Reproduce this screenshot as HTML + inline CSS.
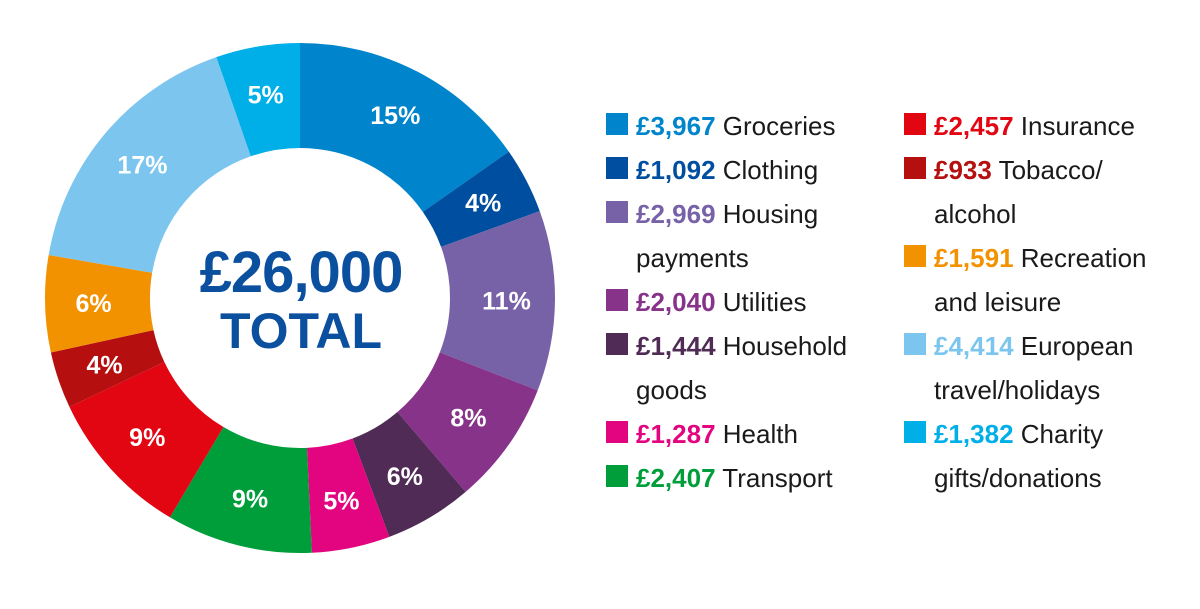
<!DOCTYPE html>
<html><head><meta charset="utf-8">
<style>
html,body{margin:0;padding:0;background:#fff;}
body{width:1200px;height:604px;overflow:hidden;font-family:"Liberation Sans",sans-serif;}
</style></head>
<body>
<svg id="chart" width="1200" height="604" viewBox="0 0 1200 604" xmlns="http://www.w3.org/2000/svg">
<g id="slices"></g>
<g id="pcts"></g>
<text x="301" y="292" text-anchor="middle" font-family="Liberation Sans, sans-serif" font-weight="bold" font-size="58" fill="#0b4f9f" letter-spacing="-1">£26,000</text>
<text x="301" y="348" text-anchor="middle" font-family="Liberation Sans, sans-serif" font-weight="bold" font-size="50" fill="#0b4f9f">TOTAL</text>
<g id="legend"></g>
</svg>
<script>
const categories = ["Groceries","Clothing","Housing payments","Utilities","Household goods","Health","Transport","Insurance","Tobacco/ alcohol","Recreation and leisure","European travel/holidays","Charity gifts/donations"];
const values = [3967,1092,2969,2040,1444,1287,2407,2457,933,1591,4414,1382];
const amountLabels = ["£3,967","£1,092","£2,969","£2,040","£1,444","£1,287","£2,407","£2,457","£933","£1,591","£4,414","£1,382"];
const legendLine1 = ["Groceries","Clothing","Housing","Utilities","Household","Health","Transport","Insurance","Tobacco/","Recreation","European","Charity"];
const legendLine2 = ["","","payments","","goods","","","","alcohol","and leisure","travel/holidays","gifts/donations"];
const colors = ["#0085cc","#004e9f","#7762a8","#87338a","#4f2b55","#e3057f","#009e3a","#e20613","#b50f0f","#f39200","#7bc5ee","#00aee8"];

const NS="http://www.w3.org/2000/svg";
const cx=300, cy=298, R=255, r=150;
const total = values.reduce((a,b)=>a+b,0);
function angleOf(v){ return v/total*Math.PI*2; }
function pt(a,rad){ return [cx+rad*Math.sin(a), cy-rad*Math.cos(a)]; }
const slicesG=document.getElementById('slices');
const pctG=document.getElementById('pcts');
let acc=0;
values.forEach((v,i)=>{
  const a0=angleOf(acc), a1=angleOf(acc+v); acc+=v;
  const large=(a1-a0)>Math.PI?1:0;
  const p0=pt(a0,R),p1=pt(a1,R),q1=pt(a1,r),q0=pt(a0,r);
  const path=document.createElementNS(NS,'path');
  path.setAttribute('d',`M${p0[0]},${p0[1]} A${R},${R} 0 ${large} 1 ${p1[0]},${p1[1]} L${q1[0]},${q1[1]} A${r},${r} 0 ${large} 0 ${q0[0]},${q0[1]} Z`);
  path.setAttribute('fill',colors[i]);
  
  
  slicesG.appendChild(path);
  const am=(a0+a1)/2, lp=pt(am,(R+r)/2+4);
  const t=document.createElementNS(NS,'text');
  t.setAttribute('x',lp[0]); t.setAttribute('y',lp[1]+9);
  t.setAttribute('text-anchor','middle');
  t.setAttribute('font-weight','bold'); t.setAttribute('font-size','25');
  t.setAttribute('fill','#fff');
  
  
  t.textContent=Math.round(v/total*100)+'%';
  pctG.appendChild(t);
});
// legend
const legendG=document.getElementById('legend');
const col1=[0,1,2,3,4,5,6], col2=[7,8,9,10,11];
function drawCol(idx,x){
  let y=125;
  idx.forEach(i=>{
    const sq=document.createElementNS(NS,'rect');
    sq.setAttribute('x',x); sq.setAttribute('y',y-12); sq.setAttribute('width',22); sq.setAttribute('height',22);
    sq.setAttribute('fill',colors[i]);
    
    
    legendG.appendChild(sq);
    const t=document.createElementNS(NS,'text');
    t.setAttribute('x',x+30); t.setAttribute('y',y+10);
    t.setAttribute('font-size','26');
    
    
    const b=document.createElementNS(NS,'tspan');
    b.setAttribute('font-weight','bold'); b.setAttribute('fill',colors[i]);
    b.textContent=amountLabels[i];
    const n=document.createElementNS(NS,'tspan');
    n.setAttribute('fill','#1a1a1a');
    n.textContent=' '+legendLine1[i];
    t.appendChild(b); t.appendChild(n);
    legendG.appendChild(t);
    y+=44;
    if(legendLine2[i]){
      const t2=document.createElementNS(NS,'text');
      t2.setAttribute('x',x+30); t2.setAttribute('y',y+10);
      t2.setAttribute('font-size','26'); t2.setAttribute('fill','#1a1a1a');
      
      
      t2.textContent=legendLine2[i];
      legendG.appendChild(t2);
      y+=44;
    }
  });
}
drawCol(col1,606);
drawCol(col2,904);
</script>
</body></html>
